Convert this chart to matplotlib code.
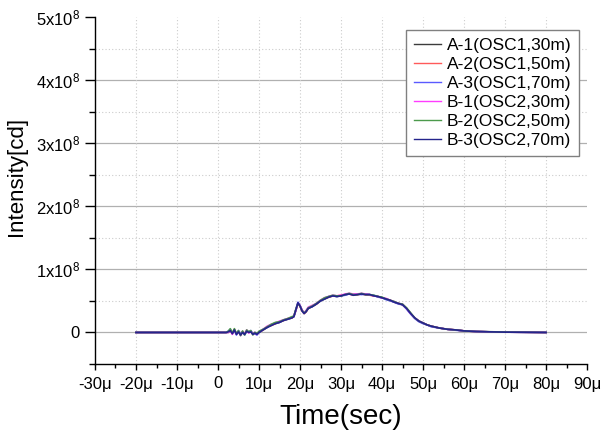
import matplotlib
matplotlib.use("Agg")
import matplotlib.pyplot as plt
from matplotlib.ticker import FixedLocator, MultipleLocator
import numpy as np

plt.rcParams['font.family'] = ['Liberation Sans', 'DejaVu Sans']
plt.rcParams['mathtext.fontset'] = 'custom'
plt.rcParams['mathtext.rm'] = 'Liberation Sans'
plt.rcParams['mathtext.default'] = 'regular'

# time axis in microseconds
time_us = [-20, -10, 0, 2.0,
           2.5, 3.0, 3.5, 4.0, 4.5, 5.0, 5.5, 6.0, 6.5, 7.0, 7.5, 8.0, 8.5, 9.0, 9.5, 10.0,
           11, 12, 13, 14, 15, 16, 17, 18, 18.5, 19, 19.5, 20, 20.5, 21, 21.5, 22,
           23, 24, 25, 26, 27, 28, 29, 30, 31, 32, 33, 34, 35, 36, 37, 38, 39, 40,
           41, 42, 43, 44, 45, 46, 47, 48, 49, 50, 51, 52, 54, 56, 58, 60, 63, 66, 70, 75, 80]

# intensities in units of 1e6 cd
a1 = [0, 0, 0, 0,
      0, 3, -1, 4, -2, 1, -3, 2, -2, 2, 1, 1, -2, 0, -2, 0,
      4, 8, 12, 14, 16, 19, 21, 23, 25, 35, 46, 42, 35, 30, 33, 38,
      41, 45, 50, 53, 56, 58, 57, 58, 60, 61, 60, 60, 61, 60, 60, 58, 57, 55, 53, 51,
      48, 46, 44, 38, 30, 23, 18, 15, 12, 10, 7, 5, 4, 2.5, 1.5, 1, 0.5, 0.3, 0]
a2 = [0, 0, 0, 0,
      1, 4, -2, 5, -3, 2, -4, 1, -3, 3, 0, 2, -3, -1, -3, 1,
      4, 9, 11, 14, 17, 19, 22, 23, 26, 36, 47, 41, 34, 30, 33, 38,
      42, 45, 51, 54, 56, 58, 58, 59, 60, 61, 59, 60, 61, 60, 59, 58, 57, 55, 53, 51,
      48, 46, 44, 38, 30, 23, 18, 15, 12, 10, 7, 5, 4, 2.5, 1.5, 1, 0.5, 0.3, 0]
a3 = [0, 0, 0, 0,
      2, 5, -1, 3, -4, 3, -2, 0, -4, 2, 1, 3, -2, -2, -4, 0,
      5, 8, 12, 15, 16, 20, 21, 24, 25, 37, 48, 43, 35, 31, 34, 39,
      41, 46, 50, 54, 57, 58, 57, 58, 59, 61, 60, 61, 60, 61, 60, 59, 56, 55, 52, 50,
      48, 45, 44, 37, 29, 22, 17, 14, 12, 9, 7, 5, 3.5, 2.5, 1.5, 1, 0.5, 0.2, 0]
b1 = [0, 0, 0, 0,
      0, 3, -3, 4, -2, 2, -5, 1, -2, 4, -1, 2, -3, 0, -3, 1,
      5, 10, 13, 15, 18, 20, 22, 24, 26, 35, 46, 43, 36, 31, 35, 40,
      43, 46, 51, 55, 57, 59, 58, 59, 61, 62, 61, 61, 62, 61, 60, 58, 57, 55, 54, 51,
      49, 46, 45, 38, 30, 23, 18, 15, 12, 10, 7, 5, 4, 2.5, 1.5, 1, 0.5, 0.3, 0]
b2 = [0, 0, 0, 0,
      2, 6, -1, 6, -2, 3, -5, 2, -4, 4, 1, 3, -4, 0, -2, 2,
      5, 9, 13, 16, 17, 20, 22, 25, 26, 37, 46, 42, 35, 31, 34, 39,
      42, 46, 51, 55, 57, 59, 58, 58, 60, 62, 60, 60, 62, 60, 60, 59, 57, 56, 53, 51,
      49, 46, 45, 39, 31, 23, 18, 15, 12, 10, 7, 5, 4, 2.5, 1.5, 1.2, 0.6, 0.3, 0]
b3 = [0, 0, 0, 0,
      1, 3, -2, 4, -3, 1, -4, 0, -3, 2, 0, 1, -3, -1, -3, 0,
      4, 8, 11, 14, 16, 19, 21, 23, 25, 36, 47, 42, 34, 30, 33, 38,
      41, 45, 50, 53, 56, 58, 57, 58, 60, 61, 59, 60, 61, 60, 60, 58, 57, 55, 53, 51,
      48, 46, 44, 38, 30, 23, 18, 15, 12, 10, 7, 5, 4, 2.5, 1.5, 1, 0.5, 0.3, 0]

labels = ['A-1(OSC1,30m)', 'A-2(OSC1,50m)', 'A-3(OSC1,70m)',
          'B-1(OSC2,30m)', 'B-2(OSC2,50m)', 'B-3(OSC2,70m)']
series = [a1, a2, a3, b1, b2, b3]
colors = ['#3c3c3c', '#ff5a5a', '#5a5aff', '#ff3cff', '#4c9a4c', '#24248c']

xticks_us = [-30, -20, -10, 0, 10, 20, 30, 40, 50, 60, 70, 80, 90]
xtick_labels = ['-30μ', '-20μ', '-10μ', '0', '10μ', '20μ', '30μ', '40μ',
                '50μ', '60μ', '70μ', '80μ', '90μ']
yticks = [0, 1e8, 2e8, 3e8, 4e8, 5e8]
ytick_labels = ['0', '1x10$^{8}$', '2x10$^{8}$', '3x10$^{8}$', '4x10$^{8}$', '5x10$^{8}$']
yhalf = [0.5e8, 1.5e8, 2.5e8, 3.5e8, 4.5e8]

fig = plt.figure(figsize=(6.06, 4.30), dpi=100)
ax = fig.add_axes([95 / 606, 1 - 364 / 430, 492 / 606, 347 / 430])

t = np.array(time_us) * 1e-6
for vals, lab, col in zip(series, labels, colors):
    ax.plot(t, np.array(vals) * 1e6, color=col, lw=1.2, label=lab, zorder=3)

ax.set_xlim(-30e-6, 90e-6)
ax.set_ylim(-0.5e8, 5e8)

ax.xaxis.set_major_locator(FixedLocator([v * 1e-6 for v in xticks_us]))
ax.set_xticklabels(xtick_labels)
ax.xaxis.set_minor_locator(MultipleLocator(5e-6))
ax.yaxis.set_major_locator(FixedLocator(yticks))
ax.set_yticklabels(ytick_labels)
ax.yaxis.set_minor_locator(MultipleLocator(0.5e8))

ax.tick_params(axis='x', which='major', direction='out', length=4, width=1, pad=5, labelsize=12)
ax.tick_params(axis='x', which='minor', direction='out', length=3, width=1)
ax.tick_params(axis='y', which='major', direction='out', length=7, width=1, pad=4, labelsize=12)
ax.tick_params(axis='y', which='minor', direction='out', length=4, width=1)

for side in ('top', 'right'):
    ax.spines[side].set_visible(False)
for side in ('left', 'bottom'):
    ax.spines[side].set_linewidth(1.0)

# grid: solid major rows, dotted half-steps and dotted columns
for y in yticks[:-1]:
    ax.axhline(y, color='#b0b0b0', lw=0.9, zorder=1)
for y in yhalf:
    ax.axhline(y, color='#cccccc', lw=0.8, ls=(0, (1, 2)), zorder=1)
for x in xticks_us[1:-1]:
    ax.axvline(x * 1e-6, color='#cccccc', lw=0.8, ls=(0, (1, 2)), zorder=1)

ax.set_xlabel('Time(sec)', fontsize=20, labelpad=9)
ax.set_ylabel('Intensity[cd]', fontsize=16, labelpad=6, y=0.54)

leg = ax.legend(loc='upper right', bbox_to_anchor=((579 - 95) / 492, 1 - (30 - 17) / 347),
                borderaxespad=0, fontsize=12.5, frameon=True, fancybox=False,
                edgecolor='#808080', framealpha=1, handlelength=1.6,
                handletextpad=0.3, labelspacing=0.22, borderpad=0.45)
leg.get_frame().set_linewidth(1.0)
for line in leg.get_lines():
    line.set_linewidth(1.0)

fig.savefig('out.png', dpi=100)
